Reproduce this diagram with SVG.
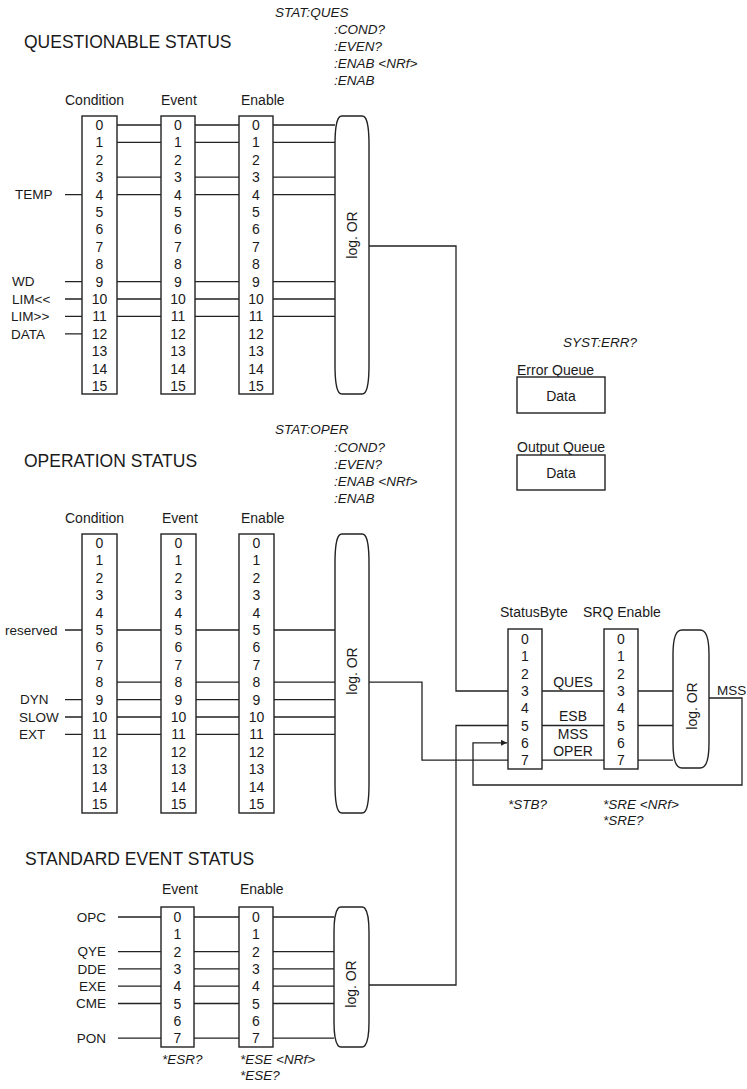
<svg xmlns="http://www.w3.org/2000/svg" width="747" height="1089" viewBox="0 0 747 1089">
<defs>
<style>
text{font-family:"Liberation Sans",Arial,sans-serif;fill:#1a1a1a}
.title{font-size:17.5px}
.hdr{font-size:14px}
.num{font-size:14px;text-anchor:middle}
.lbl{font-size:13.5px}
.cmd{font-size:13.5px;font-style:italic}
.or{font-size:14px;text-anchor:middle}
.box,.gate{fill:#fff;stroke:#222;stroke-width:1.4}
.w{fill:none;stroke:#222;stroke-width:1.3}
</style>
<marker id="arr" viewBox="0 0 10 10" refX="10" refY="5" markerWidth="7" markerHeight="6" markerUnits="userSpaceOnUse" orient="auto"><path d="M0,0 L10,5 L0,10 Z" fill="#222"/></marker>
</defs>
<rect width="747" height="1089" fill="#fff"/>

<!-- connectors -->
<g id="connectors" class="w">
<!-- Questionable -->
<path d="M65,194.6H82M65,281.6H82M65,299H82M65,316.4H82M65,333.8H82"/>
<path d="M117,125H161M117,142.4H161M117,177.2H161M117,194.6H161M117,281.6H161M117,299H161M117,316.4H161"/>
<path d="M195,125H239M195,142.4H239M195,177.2H239M195,194.6H239M195,281.6H239M195,299H239M195,316.4H239"/>
<path d="M273,125H335M273,142.4H335M273,177.2H335M273,194.6H335M273,281.6H335M273,299H335M273,316.4H335"/>
<!-- Operation -->
<path d="M65,630H82M65,699.6H82M65,717H82M65,734.4H82"/>
<path d="M117,630H161M117,682.2H161M117,699.6H161M117,717H161M117,734.4H161"/>
<path d="M196,630H239M196,682.2H239M196,699.6H239M196,717H239M196,734.4H239"/>
<path d="M274,630H335M274,682.2H335M274,699.6H335M274,717H335M274,734.4H335"/>
<!-- Standard event -->
<path d="M118,917H161M118,951.6H161M118,968.9H161M118,986.2H161M118,1003.5H161M118,1038.1H161"/>
<path d="M194,917H239M194,951.6H239M194,968.9H239M194,986.2H239M194,1003.5H239M194,1038.1H239"/>
<path d="M273,917H334M273,951.6H334M273,968.9H334M273,986.2H334M273,1003.5H334M273,1038.1H334"/>
<!-- to status byte -->
<path d="M369,246H456V691H508"/>
<path d="M369,682.2H422V760.1H508"/>
<path d="M369,985H456V725.5H508"/>
<!-- status byte to SRQ enable -->
<path d="M542,691H604M542,725.5H604M542,760.1H604"/>
<path d="M638,691H673M638,725.5H673M638,760.1H673"/>
<!-- MSS feedback -->
<path d="M709,698H742V785H473V742.8H507" marker-end="url(#arr)"/>
</g>

<!-- QUESTIONABLE STATUS -->
<g id="ques-title">
<text class="title" x="24" y="48">QUESTIONABLE STATUS</text>
<text class="cmd" x="275" y="17">STAT:QUES</text>
<text class="cmd" x="334" y="34">:COND?</text>
<text class="cmd" x="334" y="51">:EVEN?</text>
<text class="cmd" x="334" y="68">:ENAB &lt;NRf&gt;</text>
<text class="cmd" x="334" y="85">:ENAB</text>
</g>
<g id="ques-inputs">
<text class="lbl" x="15" y="199.3">TEMP</text>
<text class="lbl" x="12" y="286.3">WD</text>
<text class="lbl" x="12" y="303.7">LIM&lt;&lt;</text>
<text class="lbl" x="11" y="321.1">LIM&gt;&gt;</text>
<text class="lbl" x="11" y="338.5">DATA</text>
</g>
<g id="ques-condition">
<text class="hdr" x="65" y="105">Condition</text>
<rect class="box" x="82" y="116" width="35" height="278"/>
<text class="num" x="99.5" y="130"><tspan x="99.5">0</tspan><tspan x="99.5" dy="17.4">1</tspan><tspan x="99.5" dy="17.4">2</tspan><tspan x="99.5" dy="17.4">3</tspan><tspan x="99.5" dy="17.4">4</tspan><tspan x="99.5" dy="17.4">5</tspan><tspan x="99.5" dy="17.4">6</tspan><tspan x="99.5" dy="17.4">7</tspan><tspan x="99.5" dy="17.4">8</tspan><tspan x="99.5" dy="17.4">9</tspan><tspan x="99.5" dy="17.4">10</tspan><tspan x="99.5" dy="17.4">11</tspan><tspan x="99.5" dy="17.4">12</tspan><tspan x="99.5" dy="17.4">13</tspan><tspan x="99.5" dy="17.4">14</tspan><tspan x="99.5" dy="17.4">15</tspan></text>
</g>
<g id="ques-event">
<text class="hdr" x="161" y="105">Event</text>
<rect class="box" x="161" y="116" width="34" height="278"/>
<text class="num" x="178" y="130"><tspan x="178">0</tspan><tspan x="178" dy="17.4">1</tspan><tspan x="178" dy="17.4">2</tspan><tspan x="178" dy="17.4">3</tspan><tspan x="178" dy="17.4">4</tspan><tspan x="178" dy="17.4">5</tspan><tspan x="178" dy="17.4">6</tspan><tspan x="178" dy="17.4">7</tspan><tspan x="178" dy="17.4">8</tspan><tspan x="178" dy="17.4">9</tspan><tspan x="178" dy="17.4">10</tspan><tspan x="178" dy="17.4">11</tspan><tspan x="178" dy="17.4">12</tspan><tspan x="178" dy="17.4">13</tspan><tspan x="178" dy="17.4">14</tspan><tspan x="178" dy="17.4">15</tspan></text>
</g>
<g id="ques-enable">
<text class="hdr" x="241" y="105">Enable</text>
<rect class="box" x="239" y="116" width="34" height="278"/>
<text class="num" x="256" y="130"><tspan x="256">0</tspan><tspan x="256" dy="17.4">1</tspan><tspan x="256" dy="17.4">2</tspan><tspan x="256" dy="17.4">3</tspan><tspan x="256" dy="17.4">4</tspan><tspan x="256" dy="17.4">5</tspan><tspan x="256" dy="17.4">6</tspan><tspan x="256" dy="17.4">7</tspan><tspan x="256" dy="17.4">8</tspan><tspan x="256" dy="17.4">9</tspan><tspan x="256" dy="17.4">10</tspan><tspan x="256" dy="17.4">11</tspan><tspan x="256" dy="17.4">12</tspan><tspan x="256" dy="17.4">13</tspan><tspan x="256" dy="17.4">14</tspan><tspan x="256" dy="17.4">15</tspan></text>
</g>
<g id="ques-or">
<path class="gate" d="M335,145 C335,130 337,120 339,117.5 Q340,116 342,116 L362,116 Q364,116 365,117.5 C367,120 369,130 369,145 L369,365 C369,380 367,390 365,392.5 Q364,394 362,394 L342,394 Q340,394 339,392.5 C337,390 335,380 335,365 Z"/>
<text class="or" transform="translate(357,235) rotate(-90)">log. OR</text>
</g>

<!-- OPERATION STATUS -->
<g id="oper-title">
<text class="title" x="24" y="467">OPERATION STATUS</text>
<text class="cmd" x="275" y="434">STAT:OPER</text>
<text class="cmd" x="334" y="452">:COND?</text>
<text class="cmd" x="334" y="469">:EVEN?</text>
<text class="cmd" x="334" y="486">:ENAB &lt;NRf&gt;</text>
<text class="cmd" x="334" y="503">:ENAB</text>
</g>
<g id="oper-inputs">
<text class="lbl" x="5" y="634.7">reserved</text>
<text class="lbl" x="20" y="704.3">DYN</text>
<text class="lbl" x="19" y="721.7">SLOW</text>
<text class="lbl" x="19" y="739.1">EXT</text>
</g>
<g id="oper-condition">
<text class="hdr" x="65" y="523">Condition</text>
<rect class="box" x="82" y="534" width="35" height="279"/>
<text class="num" x="99.5" y="548"><tspan x="99.5">0</tspan><tspan x="99.5" dy="17.4">1</tspan><tspan x="99.5" dy="17.4">2</tspan><tspan x="99.5" dy="17.4">3</tspan><tspan x="99.5" dy="17.4">4</tspan><tspan x="99.5" dy="17.4">5</tspan><tspan x="99.5" dy="17.4">6</tspan><tspan x="99.5" dy="17.4">7</tspan><tspan x="99.5" dy="17.4">8</tspan><tspan x="99.5" dy="17.4">9</tspan><tspan x="99.5" dy="17.4">10</tspan><tspan x="99.5" dy="17.4">11</tspan><tspan x="99.5" dy="17.4">12</tspan><tspan x="99.5" dy="17.4">13</tspan><tspan x="99.5" dy="17.4">14</tspan><tspan x="99.5" dy="17.4">15</tspan></text>
</g>
<g id="oper-event">
<text class="hdr" x="162" y="523">Event</text>
<rect class="box" x="161" y="534" width="35" height="279"/>
<text class="num" x="178.5" y="548"><tspan x="178.5">0</tspan><tspan x="178.5" dy="17.4">1</tspan><tspan x="178.5" dy="17.4">2</tspan><tspan x="178.5" dy="17.4">3</tspan><tspan x="178.5" dy="17.4">4</tspan><tspan x="178.5" dy="17.4">5</tspan><tspan x="178.5" dy="17.4">6</tspan><tspan x="178.5" dy="17.4">7</tspan><tspan x="178.5" dy="17.4">8</tspan><tspan x="178.5" dy="17.4">9</tspan><tspan x="178.5" dy="17.4">10</tspan><tspan x="178.5" dy="17.4">11</tspan><tspan x="178.5" dy="17.4">12</tspan><tspan x="178.5" dy="17.4">13</tspan><tspan x="178.5" dy="17.4">14</tspan><tspan x="178.5" dy="17.4">15</tspan></text>
</g>
<g id="oper-enable">
<text class="hdr" x="241" y="523">Enable</text>
<rect class="box" x="239" y="534" width="35" height="279"/>
<text class="num" x="256.5" y="548"><tspan x="256.5">0</tspan><tspan x="256.5" dy="17.4">1</tspan><tspan x="256.5" dy="17.4">2</tspan><tspan x="256.5" dy="17.4">3</tspan><tspan x="256.5" dy="17.4">4</tspan><tspan x="256.5" dy="17.4">5</tspan><tspan x="256.5" dy="17.4">6</tspan><tspan x="256.5" dy="17.4">7</tspan><tspan x="256.5" dy="17.4">8</tspan><tspan x="256.5" dy="17.4">9</tspan><tspan x="256.5" dy="17.4">10</tspan><tspan x="256.5" dy="17.4">11</tspan><tspan x="256.5" dy="17.4">12</tspan><tspan x="256.5" dy="17.4">13</tspan><tspan x="256.5" dy="17.4">14</tspan><tspan x="256.5" dy="17.4">15</tspan></text>
</g>
<g id="oper-or">
<path class="gate" d="M335,563 C335,548 337,538 339,535.5 Q340,534 342,534 L362,534 Q364,534 365,535.5 C367,538 369,548 369,563 L369,784 C369,799 367,809 365,811.5 Q364,813 362,813 L342,813 Q340,813 339,811.5 C337,809 335,799 335,784 Z"/>
<text class="or" transform="translate(357,671) rotate(-90)">log. OR</text>
</g>

<!-- STANDARD EVENT STATUS -->
<g id="std-title">
<text class="title" x="25" y="865">STANDARD EVENT STATUS</text>
</g>
<g id="std-inputs" text-anchor="end">
<text class="lbl" x="106" y="921.7">OPC</text>
<text class="lbl" x="106" y="956.3">QYE</text>
<text class="lbl" x="106" y="973.6">DDE</text>
<text class="lbl" x="106" y="990.9">EXE</text>
<text class="lbl" x="106" y="1008.2">CME</text>
<text class="lbl" x="106" y="1042.8">PON</text>
</g>
<g id="std-event">
<text class="hdr" x="162" y="894">Event</text>
<rect class="box" x="161" y="907" width="33" height="140"/>
<text class="num" x="177.5" y="922"><tspan x="177.5">0</tspan><tspan x="177.5" dy="17.3">1</tspan><tspan x="177.5" dy="17.3">2</tspan><tspan x="177.5" dy="17.3">3</tspan><tspan x="177.5" dy="17.3">4</tspan><tspan x="177.5" dy="17.3">5</tspan><tspan x="177.5" dy="17.3">6</tspan><tspan x="177.5" dy="17.3">7</tspan></text>
<text class="cmd" x="162" y="1064">*ESR?</text>
</g>
<g id="std-enable">
<text class="hdr" x="240" y="894">Enable</text>
<rect class="box" x="239" y="907" width="34" height="140"/>
<text class="num" x="256" y="922"><tspan x="256">0</tspan><tspan x="256" dy="17.3">1</tspan><tspan x="256" dy="17.3">2</tspan><tspan x="256" dy="17.3">3</tspan><tspan x="256" dy="17.3">4</tspan><tspan x="256" dy="17.3">5</tspan><tspan x="256" dy="17.3">6</tspan><tspan x="256" dy="17.3">7</tspan></text>
<text class="cmd" x="240" y="1064">*ESE &lt;NRf&gt;</text>
<text class="cmd" x="240" y="1080">*ESE?</text>
</g>
<g id="std-or">
<path class="gate" d="M334,932 C334,919 336,911 338,908.5 Q339,907 341,907 L362,907 Q364,907 365,908.5 C367,911 369,919 369,932 L369,1022 C369,1035 367,1043 365,1045.5 Q364,1047 362,1047 L341,1047 Q339,1047 338,1045.5 C336,1043 334,1035 334,1022 Z"/>
<text class="or" transform="translate(356,984) rotate(-90)">log. OR</text>
</g>

<!-- Queues -->
<g id="error-queue">
<text class="cmd" x="563" y="347">SYST:ERR?</text>
<text class="hdr" x="517" y="375">Error Queue</text>
<rect class="box" x="517" y="377" width="88" height="36"/>
<text class="hdr" x="561" y="401" text-anchor="middle">Data</text>
</g>
<g id="output-queue">
<text class="hdr" x="517" y="452">Output Queue</text>
<rect class="box" x="517" y="455" width="88" height="35"/>
<text class="hdr" x="561" y="478" text-anchor="middle">Data</text>
</g>

<!-- Status byte -->
<g id="status-byte">
<text class="hdr" x="500" y="617">StatusByte</text>
<rect class="box" x="508" y="629" width="34" height="140"/>
<text class="num" x="525" y="644"><tspan x="525">0</tspan><tspan x="525" dy="17.3">1</tspan><tspan x="525" dy="17.3">2</tspan><tspan x="525" dy="17.3">3</tspan><tspan x="525" dy="17.3">4</tspan><tspan x="525" dy="17.3">5</tspan><tspan x="525" dy="17.3">6</tspan><tspan x="525" dy="17.3">7</tspan></text>
<text class="cmd" x="508" y="809">*STB?</text>
</g>
<g id="sb-labels">
<text class="num" x="573" y="687">QUES</text>
<text class="num" x="573" y="721">ESB</text>
<text class="num" x="573" y="739">MSS</text>
<text class="num" x="573" y="756">OPER</text>
</g>
<g id="srq-enable">
<text class="hdr" x="583" y="617">SRQ Enable</text>
<rect class="box" x="604" y="629" width="34" height="140"/>
<text class="num" x="621" y="644"><tspan x="621">0</tspan><tspan x="621" dy="17.3">1</tspan><tspan x="621" dy="17.3">2</tspan><tspan x="621" dy="17.3">3</tspan><tspan x="621" dy="17.3">4</tspan><tspan x="621" dy="17.3">5</tspan><tspan x="621" dy="17.3">6</tspan><tspan x="621" dy="17.3">7</tspan></text>
<text class="cmd" x="603" y="809">*SRE &lt;NRf&gt;</text>
<text class="cmd" x="603" y="825">*SRE?</text>
</g>
<g id="srq-or">
<path class="gate" d="M673,655 C673,642 675,634 678,631.5 Q679.5,630 682,630 L700,630 Q702.5,630 704,631.5 C707,634 709,642 709,655 L709,743 C709,756 707,764 704,766.5 Q702.5,768 700,768 L682,768 Q679.5,768 678,766.5 C675,764 673,756 673,743 Z"/>
<text class="or" transform="translate(697,706) rotate(-90)">log. OR</text>
<text class="lbl" x="717" y="695">MSS</text>
</g>
</svg>
